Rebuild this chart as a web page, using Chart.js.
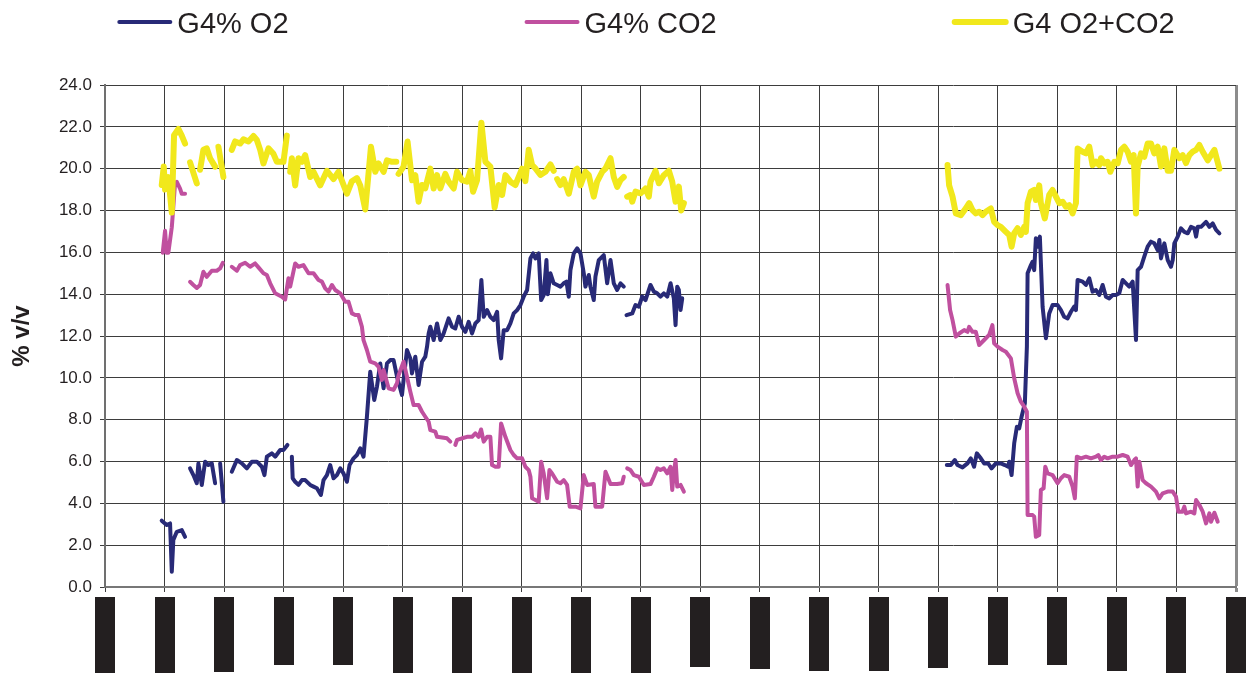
<!DOCTYPE html>
<html>
<head>
<meta charset="utf-8">
<title>G4 gas composition</title>
<script src="https://cdn.jsdelivr.net/npm/chart.js@4.4.1/dist/chart.umd.min.js"></script>
<style>
	html, body { margin: 0; padding: 0; background: #fff; }
	canvas { display: block; }
</style>
</head>
<body>
<canvas id="chart" width="1247" height="673"></canvas>
<script>
// x = position along the (redacted) time axis, one unit per tick interval
const seriesLabels = ['G4% O2', 'G4% CO2', 'G4 O2+CO2'];
const yTickValues = [0, 2, 4, 6, 8, 10, 12, 14, 16, 18, 20, 22, 24];

const o2Time = [
	0.953, 1.037, 1.093, 1.122, 1.148, 1.206, 1.29, 1.345, 1.39,
	1.429, 1.485, 1.542, 1.569, 1.626, 1.682, 1.737, 1.794, 1.85, 1.89,
	1.934, 1.989, 2.06,
	2.13, 2.215, 2.299, 2.383, 2.467, 2.551, 2.635, 2.679, 2.719, 2.803, 2.859, 2.943, 2.998, 3.065, 3.10,
	3.139, 3.153, 3.195, 3.25, 3.308, 3.363, 3.447, 3.503, 3.56, 3.627,
	3.671, 3.728, 3.783, 3.839, 3.896, 3.952, 4.007, 4.064, 4.108, 4.175,
	4.232, 4.288, 4.343, 4.4, 4.456, 4.523, 4.569, 4.624, 4.68, 4.737,
	4.792, 4.848, 4.91, 4.989, 5.016, 5.073, 5.129, 5.157, 5.213, 5.268,
	5.326, 5.381, 5.41, 5.437, 5.465, 5.521, 5.578, 5.633, 5.689, 5.773,
	5.83, 5.885, 5.941, 5.998, 6.054, 6.109, 6.166, 6.222, 6.277, 6.323,
	6.362, 6.419, 6.474, 6.53, 6.587, 6.614, 6.654, 6.698, 6.755, 6.81,
	6.866, 6.923, 6.979, 7.034, 7.091, 7.147, 7.192, 7.231, 7.286, 7.327,
	7.37, 7.416, 7.438, 7.483, 7.538, 7.596, 7.651, 7.706, 7.752, 7.791,
	7.819, 7.875, 7.932, 7.987, 8.043, 8.071, 8.127, 8.155, 8.211, 8.239,
	8.295, 8.379, 8.436, 8.492, 8.547, 8.604, 8.66, 8.715, 8.74,
	8.761, 8.857, 8.912, 8.968, 9.025, 9.08, 9.164, 9.22, 9.277, 9.332,
	9.388, 9.445, 9.501, 9.556, 9.585, 9.613, 9.64, 9.669, 9.697, 12,
	14.142, 14.209, 14.276, 14.321, 14.405, 14.489, 14.545, 14.6, 14.646, 14.713,
	14.769, 14.836, 14.893, 14.966, 15.05, 15.117, 15.173, 15.19, 15.23, 15.274,
	15.319, 15.358, 15.398, 15.453, 15.487, 15.499, 15.555, 15.583, 15.61, 15.638,
	15.666, 15.705, 15.751, 15.807, 15.862, 15.919, 16.003, 16.059, 16.114, 16.171,
	16.227, 16.282, 16.311, 16.339, 16.423, 16.479, 16.535, 16.591, 16.647, 16.703,
	16.76, 16.815, 16.871, 16.928, 16.984, 17.039, 17.096, 17.152, 17.207, 17.264,
	17.32, 17.348, 17.404, 17.459, 17.516, 17.572, 17.627, 17.684, 17.712, 17.74,
	17.796, 17.853, 17.908, 17.937, 17.964, 18.021, 18.076, 18.132, 18.189, 18.244,
	18.3, 18.329, 18.357, 18.413, 18.497, 18.553, 18.609, 18.665, 18.721,
];
const o2Values = [
	3.17, 2.96, 3.04, 0.73, 2.25, 2.64, 2.72, 2.4, null,
	5.67, 5.35, 4.96, 5.91, 4.88, 5.99, 5.83, 5.91, 4.96, null,
	5.91, 4.08, null,
	5.51, 6.07, 5.91, 5.67, 5.99, 5.99, 5.75, 5.35, 6.23, 6.39, 6.23, 6.55, 6.55, 6.79, null,
	6.23, 5.2, 5.03, 4.88, 5.11, 5.11, 4.88, 4.8, 4.72, 4.4,
	5.11, 5.35, 5.83, 5.2, 5.35, 5.67, 5.43, 5.03, 5.83, 6.15,
	6.31, 6.63, 6.23, 8.14, 10.29, 8.94, 9.58, 10.69, 9.5, 10.69,
	10.85, 10.85, 10.0, 9.18, 9.9, 11.33, 10.93, 10.21, 11.01, 9.66,
	10.77, 11.01, 11.49, 12.12, 12.44, 11.81, 12.6, 11.81, 12.12, 12.84,
	12.44, 12.36, 12.92, 12.44, 12.2, 12.68, 12.12, 12.6, 12.76, 14.68,
	12.92, 13.24, 12.92, 12.76, 13.16, 11.81, 10.93, 12.28, 12.28, 12.6,
	13.08, 13.24, 13.48, 13.88, 14.2, 15.71, 15.95, 15.71, 15.95, 13.72,
	13.96, 15.63, 14.0, 15.0, 14.52, 14.44, 14.36, 14.52, 14.6, 13.88,
	15.15, 15.95, 16.19, 15.95, 15.0, 14.36, 14.92, 14.36, 13.72, 14.84,
	15.63, 15.87, 14.52, 15.63, 14.52, 14.2, 14.52, 14.36, null,
	13.0, 13.08, 13.48, 13.4, 13.88, 13.72, 14.44, 14.12, 14.04, 13.88,
	14.04, 13.88, 14.52, 13.8, 12.52, 14.36, 14.2, 13.24, 13.8, null,
	5.83, 5.83, 6.07, 5.83, 5.72, 5.91, 6.15, 5.75, 6.39, 6.15,
	5.91, 5.91, 5.67, 5.91, 5.91, 5.83, 5.75, 5.99, 5.35, 6.87,
	7.66, 7.58, 8.14, 8.78, 11.49, 15.0, 15.39, 15.55, 15.15, 16.67,
	16.27, 16.75, 13.4, 11.89, 13.08, 13.48, 13.48, 13.24, 12.92, 12.84,
	13.16, 13.4, 13.24, 14.68, 14.6, 14.44, 14.76, 14.12, 14.2, 13.96,
	14.44, 13.88, 13.8, 13.96, 13.96, 14.04, 14.68, 14.52, 14.36, 14.6,
	11.81, 15.15, 15.31, 15.79, 16.27, 16.51, 16.43, 16.11, 16.59, 15.71,
	16.43, 15.63, 15.31, 15.63, 16.43, 16.75, 17.15, 16.98, 16.91, 17.22,
	17.15, 16.75, 17.22, 17.22, 17.46, 17.22, 17.38, 17.07, 16.91,
];

const co2Time = [
	0.97, 1.009, 1.037, 1.064, 1.122, 1.148, 1.177, 1.206, 1.261, 1.29,
	1.345, 1.39,
	1.429, 1.485, 1.542, 1.597, 1.653, 1.71, 1.794, 1.878, 1.934, 1.979,
	2.05,
	2.13, 2.215, 2.27, 2.354, 2.438, 2.522, 2.578, 2.662, 2.719, 2.775,
	2.859, 2.971, 3.027, 3.082, 3.111, 3.195, 3.25, 3.334, 3.419, 3.503,
	3.587, 3.644, 3.699, 3.755, 3.812, 3.867, 3.952, 4.036, 4.091, 4.148,
	4.204, 4.259, 4.316, 4.343, 4.4, 4.456, 4.54, 4.596, 4.652, 4.68,
	4.764, 4.848, 4.905, 4.932, 5.016, 5.073, 5.129, 5.184, 5.268, 5.326,
	5.381, 5.437, 5.465, 5.549, 5.578, 5.662, 5.746, 5.801, 5.84,
	5.885, 5.914, 5.998, 6.082, 6.166, 6.222, 6.277, 6.318, 6.362, 6.419,
	6.474, 6.502, 6.558, 6.614, 6.654, 6.726, 6.81, 6.866, 6.923, 7.007,
	7.062, 7.118, 7.147, 7.175, 7.231, 7.286, 7.327, 7.37, 7.427, 7.466,
	7.511, 7.596, 7.651, 7.706, 7.763, 7.807, 7.903, 7.987, 8.043, 8.1,
	8.211, 8.239, 8.352, 8.408, 8.492, 8.604, 8.688, 8.715, 8.74,
	8.772, 8.828, 8.884, 8.968, 9.052, 9.164, 9.22, 9.277, 9.332, 9.388,
	9.445, 9.501, 9.529, 9.556, 9.585, 9.613, 9.669, 9.725, 12,
	14.154, 14.197, 14.238, 14.293, 14.349, 14.433, 14.489, 14.517, 14.573, 14.629,
	14.685, 14.769, 14.853, 14.908, 14.937, 14.994, 15.078, 15.134, 15.218, 15.274,
	15.331, 15.386, 15.442, 15.487, 15.499, 15.583, 15.61, 15.638, 15.694, 15.722,
	15.768, 15.796, 15.835, 15.919, 16.003, 16.059, 16.114, 16.198, 16.255, 16.293,
	16.326, 16.395, 16.479, 16.563, 16.647, 16.686, 16.731, 16.787, 16.844, 16.928,
	17.012, 17.096, 17.18, 17.236, 17.292, 17.32, 17.348, 17.376, 17.432, 17.488,
	17.572, 17.656, 17.712, 17.768, 17.853, 17.937, 17.992, 18.031, 18.1, 18.132,
	18.16, 18.244, 18.3, 18.329, 18.385, 18.441, 18.497, 18.553, 18.581, 18.637,
	18.693,
];
const co2Values = [
	15.98, 17.03, 15.98, 15.98, 17.2, 18.17, 19.3, 19.37, 19.05, 18.8,
	18.8, null,
	14.59, 14.44, 14.3, 14.44, 15.07, 14.83, 15.12, 15.12, 15.23, 15.5,
	null,
	15.31, 15.12, 15.39, 15.5, 15.31, 15.47, 15.28, 15.0, 14.92, 14.52,
	14.04, 13.88, 13.75, 14.76, 14.36, 15.47, 15.31, 15.39, 15.0, 15.0,
	14.68, 14.6, 14.28, 14.12, 14.44, 14.2, 14.04, 13.64, 13.64, 13.08,
	13.0, 13.0, 12.44, 11.8, 11.33, 10.77, 10.69, 10.53, 9.9, 10.37,
	9.5, 9.42, 9.74, 10.13, 10.77, 10.05, 9.34, 8.7, 8.7, 8.38,
	8.14, 7.9, 7.5, 7.43, 7.18, 7.15, 7.11, 6.95, null,
	6.79, 7.03, 7.11, 7.18, 7.18, 7.35, 7.18, 7.53, 6.95, 7.18,
	7.18, 5.83, 5.75, 5.75, 7.82, 7.18, 6.55, 6.31, 6.15, 6.15,
	5.75, 5.59, 5.27, 4.24, 4.16, 4.08, 5.99, 5.43, 4.24, 5.59,
	5.43, 5.03, 4.96, 5.11, 4.88, 3.84, 3.84, 3.76, 5.35, 4.88,
	4.92, 3.84, 3.84, 5.51, 4.92, 4.92, 4.96, 5.27, null,
	5.67, 5.59, 5.35, 5.27, 4.88, 4.92, 5.27, 5.67, 5.59, 5.67,
	5.43, 5.75, 4.64, 5.43, 6.07, 4.8, 4.88, 4.56, null,
	14.44, 13.24, 12.76, 11.97, 12.12, 12.28, 12.2, 12.44, 12.2, 12.2,
	11.57, 11.81, 12.05, 12.52, 11.65, 11.49, 11.33, 11.25, 10.93, 9.98,
	9.26, 8.86, 8.62, 8.38, 3.44, 3.44, 3.36, 2.4, 2.49, 4.64,
	4.72, 5.75, 5.43, 5.35, 4.96, 5.2, 5.35, 5.27, 4.8, 4.24,
	6.23, 6.15, 6.23, 6.15, 6.23, 6.31, 6.07, 6.23, 6.15, 6.23,
	6.23, 6.31, 6.23, 5.83, 6.07, 6.15, 4.8, 5.99, 5.11, 4.96,
	4.8, 4.56, 4.24, 4.48, 4.56, 4.56, 4.32, 3.6, 3.6, 3.84,
	3.52, 3.6, 3.52, 4.16, 3.92, 3.6, 3.04, 3.52, 3.12, 3.55,
	3.12,
];

const totalTime = [
	0.953, 0.987, 1.009, 1.064, 1.122, 1.16, 1.233, 1.29, 1.345, 1.39,
	1.429, 1.542, 1.57,
	1.597, 1.653, 1.71, 1.765, 1.85, 1.88,
	1.905, 1.989, 2.06,
	2.13, 2.186, 2.27, 2.326, 2.41, 2.494, 2.551, 2.607, 2.662, 2.746,
	2.83, 2.887, 2.998, 3.055, 3.08,
	3.111, 3.139, 3.195, 3.25, 3.308, 3.363, 3.447, 3.503, 3.615, 3.728,
	3.839, 3.923, 4.064, 4.148, 4.232, 4.288, 4.372, 4.468, 4.54, 4.596,
	4.68, 4.737, 4.821, 4.893, 4.91,
	4.932, 5.016, 5.083, 5.157, 5.213, 5.268, 5.326, 5.381, 5.465, 5.521,
	5.578, 5.633, 5.717, 5.773, 5.858, 5.914, 5.998, 6.082, 6.138, 6.183,
	6.25, 6.323, 6.39, 6.474, 6.546, 6.614, 6.671, 6.726, 6.81, 6.894,
	7.007, 7.062, 7.118, 7.175, 7.231, 7.315, 7.399, 7.483, 7.538, 7.57,
	7.596, 7.651, 7.706, 7.791, 7.875, 7.932, 7.987, 8.071, 8.127, 8.211,
	8.267, 8.352, 8.408, 8.492, 8.547, 8.604, 8.66, 8.715, 8.74,
	8.772, 8.828, 8.857, 8.912, 8.996, 9.08, 9.136, 9.164, 9.248, 9.304,
	9.388, 9.472, 9.529, 9.585, 9.64, 9.68, 9.725, 12,
	14.154, 14.181, 14.238, 14.293, 14.377, 14.461, 14.517, 14.573, 14.629, 14.685,
	14.742, 14.797, 14.881, 14.937, 14.994, 15.05, 15.134, 15.19, 15.23, 15.274,
	15.331, 15.386, 15.442, 15.47, 15.499, 15.555, 15.61, 15.638, 15.694, 15.722,
	15.788, 15.862, 15.919, 15.975, 16.031, 16.087, 16.143, 16.198, 16.255, 16.311,
	16.339, 16.423, 16.479, 16.535, 16.591, 16.647, 16.703, 16.731, 16.787, 16.844,
	16.888, 16.956, 17.012, 17.068, 17.124, 17.18, 17.236, 17.281, 17.32, 17.348,
	17.404, 17.459, 17.516, 17.572, 17.627, 17.684, 17.74, 17.796, 17.853, 17.908,
	17.964, 18.048, 18.104, 18.16, 18.216, 18.273, 18.329, 18.385, 18.441, 18.525,
	18.581, 18.637, 18.721,
];
const totalValues = [
	19.22, 20.1, 19.0, 19.6, 17.9, 21.6, 21.9, 21.58, 21.2, null,
	20.3, 19.3, null,
	19.95, 20.9, 20.97, 20.5, 20.1, null,
	21.05, 19.6, null,
	20.9, 21.3, 21.2, 21.4, 21.3, 21.56, 21.37, 20.9, 20.25, 20.97,
	20.71, 20.33, 20.33, 21.58, null,
	19.85, 20.5, 19.2, 20.5, 20.33, 20.65, 19.6, 19.85, 19.2, 19.9,
	19.5, 19.85, 18.8, 19.4, 19.55, 19.2, 18.05, 21.05, 19.85, 20.25,
	19.85, 20.4, 20.33, 20.33, null,
	19.75, 20.1, 21.3, 19.45, 19.69, 18.42, 19.22, 19.06, 20.0, 19.05,
	19.69, 19.06, 19.75, 19.38, 19.05, 19.85, 19.45, 19.38, 19.9, 18.9,
	19.45, 22.2, 20.33, 20.1, 18.15, 19.22, 18.74, 19.69, 19.38, 19.22,
	20.0, 19.4, 20.9, 20.17, 20.01, 19.7, 19.85, 20.2, 19.9, null,
	19.5, 19.22, 19.5, 18.8, 19.85, 20.0, 19.2, 19.85, 19.69, 18.66,
	19.38, 19.85, 20.0, 20.5, 19.6, 19.13, 19.45, 19.6, null,
	18.66, 18.74, 18.42, 18.9, 18.82, 19.05, 18.66, 19.38, 19.9, 19.3,
	19.69, 19.9, 19.38, 18.42, 19.14, 18.0, 18.35, null,
	20.17, 19.2, 18.66, 17.86, 17.78, 18.1, 18.35, 18.02, 17.86, 17.94,
	17.78, 17.94, 18.1, 17.46, 17.3, 17.22, 16.98, 16.83, 16.27, 16.91,
	17.15, 16.83, 17.22, 16.98, 18.35, 18.9, 18.98, 18.5, 19.2, 18.35,
	17.62, 18.74, 18.98, 18.66, 18.35, 18.42, 18.18, 18.26, 17.86, 18.35,
	20.97, 20.81, 20.73, 21.05, 20.17, 20.33, 20.17, 20.5, 20.25, 20.33,
	19.85, 20.33, 20.25, 20.9, 21.05, 20.81, 20.33, 20.65, 17.86, 20.1,
	20.73, 20.57, 21.2, 21.2, 20.73, 21.05, 20.1, 20.97, 19.9, 19.9,
	20.9, 20.5, 20.65, 20.27, 20.65, 20.81, 20.9, 21.13, 20.81, 20.4,
	20.65, 20.9, 20.0,
];

const textColor = '#231f20';

function toPoints(times, values) {
	return times.map((t, i) => ({ x: t, y: values[i] }));
}

// tick labels under the x axis are blacked out in the source; draw them as bars
const redactedTicks = {
	id: 'redactedTicks',
	afterDraw(chart, args, opts) {
		const { ctx } = chart;
		const xs = chart.scales.x;
		ctx.save();
		ctx.fillStyle = textColor;
		xs.ticks.forEach((tick, i) => {
			const px = xs.getPixelForValue(tick.value);
			ctx.fillRect(Math.round(px) - 10, opts.top, 20, opts.lengths[i] || 70);
		});
		ctx.restore();
	},
};

// legend spread across the top like the original
const spreadLegend = {
	id: 'spreadLegend',
	afterDraw(chart, args, opts) {
		const { ctx } = chart;
		ctx.save();
		ctx.font = opts.font;
		ctx.textBaseline = 'alphabetic';
		const items = chart.data.datasets.map((ds) => ({
			text: ds.label,
			color: ds.borderColor,
			width: ds.legendWidth,
			textW: ctx.measureText(ds.label).width,
		}));
		const total = items.reduce((s, it) => s + opts.lineLength + opts.textGap + it.textW, 0) + opts.gap * (items.length - 1);
		let x = opts.center - total / 2;
		items.forEach((it) => {
			ctx.strokeStyle = it.color;
			ctx.lineWidth = it.width;
			ctx.lineCap = 'round';
			ctx.beginPath();
			ctx.moveTo(x, opts.y);
			ctx.lineTo(x + opts.lineLength, opts.y);
			ctx.stroke();
			ctx.fillStyle = textColor;
			ctx.fillText(it.text, x + opts.lineLength + opts.textGap, opts.y + 11);
			x += opts.lineLength + opts.textGap + it.textW + opts.gap;
		});
		ctx.restore();
	},
};

function createChart() {
	const ctx = document.getElementById('chart').getContext('2d');
	const lineStyle = {
		pointRadius: 0,
		pointHoverRadius: 0,
		tension: 0,
		spanGaps: false,
		borderCapStyle: 'round',
		borderJoinStyle: 'round',
		fill: false,
	};
	new Chart(ctx, {
		type: 'line',
		data: {
			datasets: [
				{
					...lineStyle,
					label: seriesLabels[0],
					data: toPoints(o2Time, o2Values),
					borderColor: '#282a77',
					borderWidth: 4,
					legendWidth: 4,
					order: 3,
				},
				{
					...lineStyle,
					label: seriesLabels[1],
					data: toPoints(co2Time, co2Values),
					borderColor: '#c0509f',
					borderWidth: 4,
					legendWidth: 4,
					order: 2,
				},
				{
					...lineStyle,
					label: seriesLabels[2],
					data: toPoints(totalTime, totalValues),
					borderColor: '#f1e81c',
					borderWidth: 6,
					legendWidth: 6,
					order: 1,
				},
			],
		},
		options: {
			responsive: false,
			animation: false,
			devicePixelRatio: 1,
			layout: {
				padding: { top: 85, right: 11, left: 0, bottom: 0 },
			},
			plugins: {
				legend: { display: false },
				tooltip: { enabled: false },
				spreadLegend: {
					font: '29px "Liberation Sans", Arial, sans-serif',
					center: 647,
					y: 22,
					lineLength: 51,
					textGap: 7,
					gap: 238,
				},
				redactedTicks: {
					top: 597,
					lengths: [76, 76, 75, 68, 68, 76, 76, 76, 76, 76, 70, 72, 74, 74, 71, 68, 68, 74, 76, 76],
				},
			},
			scales: {
				x: {
					type: 'linear',
					min: 0,
					max: 19,
					ticks: {
						display: false,
						stepSize: 1,
					},
					grid: {
						color: (c) => (c.tick && c.tick.value === 19 ? '#8c8c8c' : '#3d3d3d'),
						lineWidth: (c) => (c.tick && c.tick.value === 19 ? 3 : 1),
						tickLength: 5,
					},
					border: { color: '#777777', width: 2 },
					afterFit: (scale) => {
						scale.height = 86;
					},
				},
				y: {
					min: 0,
					max: 24,
					afterBuildTicks: (scale) => {
						scale.ticks = yTickValues.map((v) => ({ value: v }));
					},
					ticks: {
						color: textColor,
						font: { family: '"Liberation Sans", Arial, sans-serif', size: 17 },
						padding: 8,
						callback: (v) => Number(v).toFixed(1),
					},
					grid: {
						color: '#3d3d3d',
						lineWidth: 1,
						tickLength: 5,
					},
					border: { color: '#707070', width: 2 },
					title: {
						display: true,
						text: '% v/v',
						color: textColor,
						font: { family: '"Liberation Sans", Arial, sans-serif', size: 24, weight: 'bold' },
						padding: { top: 8, bottom: 0 },
					},
					afterFit: (scale) => {
						scale.width = 105;
					},
				},
			},
		},
		plugins: [spreadLegend, redactedTicks],
	});
}

document.addEventListener('DOMContentLoaded', createChart);
</script>
</body>
</html>
